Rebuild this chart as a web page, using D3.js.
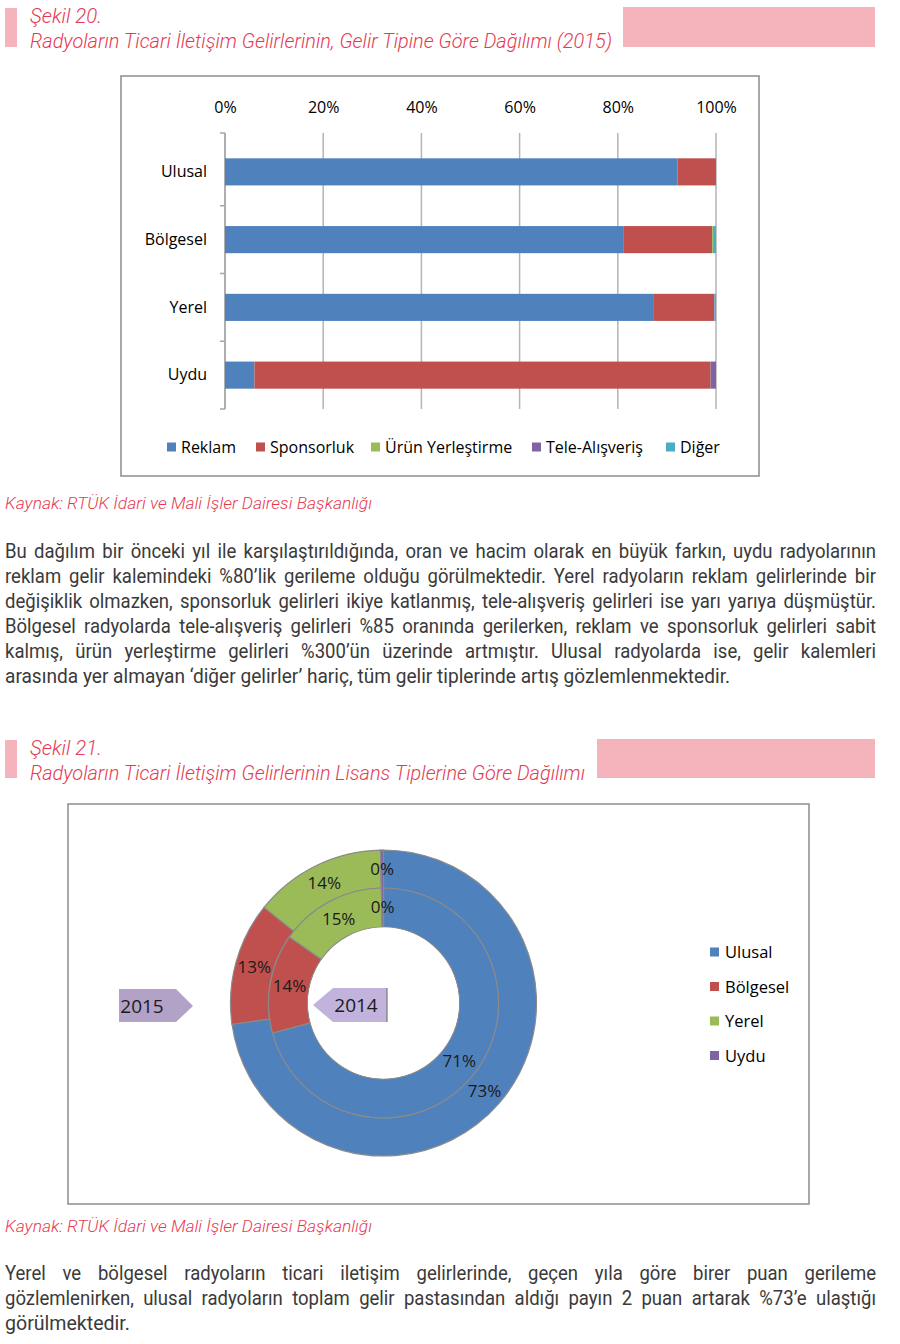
<!DOCTYPE html>
<html><head><meta charset="utf-8">
<script src="https://cdn.jsdelivr.net/npm/d3@7"></script>
<style>html,body{margin:0;padding:0;background:#fff;}svg{display:block;}</style>
</head><body>
<script>
// ---------- DATA ----------
const barCategories = ["Ulusal", "Bölgesel", "Yerel", "Uydu"];
const revenueTypes = ["Reklam", "Sponsorluk", "Ürün Yerleştirme", "Tele-Alışveriş", "Diğer"];
const reklam      = [92.2, 81.1, 87.2, 6.0];
const sponsorluk  = [7.6, 18.1, 12.4, 92.9];
const urunYer     = [0.0, 0.2, 0.0, 0.0];
const teleAlis    = [0.2, 0.0, 0.1, 1.1];
const diger       = [0.0, 0.6, 0.3, 0.0];
const xTicks = [0, 20, 40, 60, 80, 100];

const licenseTypes = ["Ulusal", "Bölgesel", "Yerel", "Uydu"];
const share2015 = [73, 13, 14, 0.3];
const share2014 = [71, 14, 15, 0.3];
const shareLabels2015 = ["73%", "13%", "14%", "0%"];
const shareLabels2014 = ["71%", "14%", "15%", "0%"];

const title1a = "Şekil 20.";
const title1b = "Radyoların Ticari İletişim Gelirlerinin, Gelir Tipine Göre Dağılımı (2015)";
const title2a = "Şekil 21.";
const title2b = "Radyoların Ticari İletişim Gelirlerinin Lisans Tiplerine Göre Dağılımı";
const sourceText = "Kaynak: RTÜK İdari ve Mali İşler Dairesi Başkanlığı";
const para1 = [
 "Bu dağılım bir önceki yıl ile karşılaştırıldığında, oran ve hacim olarak en büyük farkın, uydu radyolarının",
 "reklam gelir kalemindeki %80’lik gerileme olduğu görülmektedir. Yerel radyoların reklam gelirlerinde bir",
 "değişiklik olmazken, sponsorluk gelirleri ikiye katlanmış, tele-alışveriş gelirleri ise yarı yarıya düşmüştür.",
 "Bölgesel radyolarda tele-alışveriş gelirleri %85 oranında gerilerken, reklam ve sponsorluk gelirleri sabit",
 "kalmış, ürün yerleştirme gelirleri %300’ün üzerinde artmıştır. Ulusal radyolarda ise, gelir kalemleri",
 "arasında yer almayan ‘diğer gelirler’ hariç, tüm gelir tiplerinde artış gözlemlenmektedir."
];
const para2 = [
 "Yerel ve bölgesel radyoların ticari iletişim gelirlerinde, geçen yıla göre birer puan gerileme",
 "gözlemlenirken, ulusal radyoların toplam gelir pastasından aldığı payın 2 puan artarak %73’e ulaştığı",
 "görülmektedir."
];

// ---------- STYLE ----------
const colors = ["#4F81BD", "#C0504D", "#9BBB59", "#8064A2", "#4BACC6"];
const pink = "#F5B4BB";
const red = "#E63A52";
const bodyColor = "#3a3a3a";
const chartFont = "'Open Sans', sans-serif";
const textFont = "Roboto, sans-serif";

const svg = d3.select("body").append("svg").attr("width", 900).attr("height", 1344);

// ---------- HEADERS ----------
function header(y0, y1, boxX, lineA, lineB, widthB) {
  svg.append("rect").attr("x", 5).attr("y", y0).attr("width", 12).attr("height", y1 - y0).attr("fill", pink);
  svg.append("rect").attr("x", boxX).attr("y", y0 - 1).attr("width", 875 - boxX).attr("height", y1 - y0 + 1).attr("fill", pink);
  svg.append("text").attr("x", 30).attr("y", y0 + 15).text(lineA)
    .attr("font-family", textFont).attr("font-weight", 300).attr("font-style", "italic")
    .attr("font-size", 21).attr("fill", red)
    .attr("textLength", 72).attr("lengthAdjust", "spacingAndGlyphs");
  svg.append("text").attr("x", 30).attr("y", y0 + 40).text(lineB)
    .attr("font-family", textFont).attr("font-weight", 300).attr("font-style", "italic")
    .attr("font-size", 21).attr("fill", red)
    .attr("textLength", widthB).attr("lengthAdjust", "spacingAndGlyphs");
}
header(8, 47, 623, title1a, title1b, 582);
header(740, 778, 597, title2a, title2b, 555);

function source(y) {
  svg.append("text").attr("x", 5).attr("y", y).text(sourceText)
    .attr("font-family", textFont).attr("font-weight", 300).attr("font-style", "italic")
    .attr("font-size", 17).attr("fill", red)
    .attr("textLength", 367).attr("lengthAdjust", "spacingAndGlyphs");
}
source(509);
source(1232);

// ---------- PARAGRAPHS (justified) ----------
function paragraph(lines, y0, lastWidth) {
  const left = 5, right = 876;
  const fs = 19.5;
  lines.forEach((line, i) => {
    const y = y0 + i * 25;
    const isLast = i === lines.length - 1;
    if (isLast) {
      const t = svg.append("text").attr("x", left).attr("y", y).text(line)
        .attr("font-family", textFont).attr("font-weight", 400).attr("font-size", fs).attr("fill", bodyColor);
      if (lastWidth) t.attr("textLength", lastWidth).attr("lengthAdjust", "spacingAndGlyphs");
      return;
    }
    const words = line.split(" ");
    const g = svg.append("g");
    const nodes = words.map(w => g.append("text").attr("y", y).text(w)
      .attr("font-family", textFont).attr("font-weight", 400).attr("font-size", fs).attr("fill", bodyColor));
    const widths = nodes.map(n => n.node().getComputedTextLength());
    const total = d3.sum(widths);
    let scaleX = 0.95;
    const minGap = 5.5;
    if (total * scaleX + minGap * (words.length - 1) > right - left) {
      scaleX = (right - left - minGap * (words.length - 1)) / total;
    }
    const gap = (right - left - total * scaleX) / (words.length - 1);
    let x = left;
    nodes.forEach((n, k) => {
      const w = widths[k] * scaleX;
      n.attr("x", x).attr("textLength", w).attr("lengthAdjust", "spacingAndGlyphs");
      x += w + gap;
    });
  });
}
paragraph(para1, 558, 725);
paragraph(para2, 1280, 125);

// ---------- BAR CHART ----------
svg.append("rect").attr("x", 121).attr("y", 76).attr("width", 638).attr("height", 400)
  .attr("fill", "#fff").attr("stroke", "#8C8C8C").attr("stroke-width", 1.5);

const x = d3.scaleLinear().domain([0, 100]).range([225, 716]);
const y = d3.scaleBand().domain(barCategories).range([138, 409]).padding(0);
const barH = y.bandwidth() * 0.4;

svg.append("g").selectAll("line").data(xTicks).join("line")
  .attr("x1", d => x(d)).attr("x2", d => x(d)).attr("y1", 133).attr("y2", 409)
  .attr("stroke", "#B5B5B5").attr("stroke-width", 1.5);

const xAxis = d3.axisTop(x).tickValues(xTicks).tickFormat(d => d + "%").tickSize(0).tickPadding(0);
const gx = svg.append("g").attr("transform", "translate(0,113)").call(xAxis);
gx.select(".domain").remove();
gx.selectAll("text").attr("font-family", chartFont).attr("font-size", 16).attr("fill", "#000").attr("dy", 0);

const yAxis = d3.axisLeft(y).tickSize(0).tickPadding(18);
const gy = svg.append("g").attr("transform", "translate(225,0)").call(yAxis);
gy.select(".domain").remove();
gy.selectAll("text").attr("font-family", chartFont).attr("font-size", 16).attr("fill", "#000");
svg.append("line").attr("x1", 225).attr("x2", 225).attr("y1", 133).attr("y2", 409)
  .attr("stroke", "#A6A6A6").attr("stroke-width", 1.5);
const boundaries = [133].concat(barCategories.slice(1).map(c => y(c))).concat([409]);
svg.append("g").selectAll("line").data(boundaries).join("line")
  .attr("x1", 220).attr("x2", 225).attr("y1", d => d).attr("y2", d => d)
  .attr("stroke", "#A6A6A6").attr("stroke-width", 1.5);

const seriesArrays = [reklam, sponsorluk, urunYer, teleAlis, diger];
const rows = barCategories.map((c, i) => {
  const r = { cat: c };
  revenueTypes.forEach((t, k) => r[t] = seriesArrays[k][i]);
  return r;
});
const stack = d3.stack().keys(revenueTypes)(rows);
svg.append("g").selectAll("g").data(stack).join("g")
  .attr("fill", (d, i) => colors[i])
  .selectAll("rect").data(d => d).join("rect")
  .attr("x", d => x(d[0]))
  .attr("width", d => Math.max(0, x(d[1]) - x(d[0])))
  .attr("y", d => y(d.data.cat) + (y.bandwidth() - barH) / 2)
  .attr("height", barH);

const legendX = [167, 256, 371, 532, 666];
const lg = svg.append("g").selectAll("g").data(revenueTypes).join("g")
  .attr("transform", (d, i) => `translate(${legendX[i]},447)`);
lg.append("rect").attr("x", 0).attr("y", -4.5).attr("width", 9).attr("height", 9).attr("fill", (d, i) => colors[i]);
lg.append("text").attr("x", 14).attr("y", 5.5).text(d => d)
  .attr("font-family", chartFont).attr("font-size", 16).attr("fill", "#000");

// ---------- DONUT CHART ----------
svg.append("rect").attr("x", 68).attr("y", 804).attr("width", 741).attr("height", 400)
  .attr("fill", "#fff").attr("stroke", "#8C8C8C").attr("stroke-width", 1.5);

const cx = 383.5, cy = 1003;
const pie = d3.pie().sort(null).value(d => d);
const arcOuter = d3.arc().innerRadius(115).outerRadius(153);
const arcInner = d3.arc().innerRadius(76).outerRadius(115);
const dg = svg.append("g").attr("transform", `translate(${cx},${cy})`);

const p15 = pie(share2015), p14 = pie(share2014);
dg.append("g").selectAll("path").data(p15).join("path")
  .attr("d", arcOuter).attr("fill", (d, i) => colors[i])
  .attr("stroke", "#8A8A8A").attr("stroke-width", 1.2);
dg.append("g").selectAll("path").data(p14).join("path")
  .attr("d", arcInner).attr("fill", (d, i) => colors[i])
  .attr("stroke", "#8A8A8A").attr("stroke-width", 1.2);
dg.append("circle").attr("r", 75.4).attr("fill", "#fff");

function pieLabels(data, arc, labels) {
  dg.append("g").selectAll("text").data(data).join("text")
    .attr("transform", d => {
      const c = arc.centroid(d);
      return `translate(${c[0]},${c[1]})`;
    })
    .attr("text-anchor", "middle").attr("dy", "0.35em")
    .attr("font-family", chartFont).attr("font-size", 17).attr("fill", "#1a1a1a")
    .text((d, i) => labels[i]);
}
pieLabels(p15, arcOuter, shareLabels2015);
pieLabels(p14, arcInner, shareLabels2014);

svg.append("path")
  .attr("d", "M119,989 L176,989 L193,1006 L176,1022 L119,1022 Z")
  .attr("fill", "#B3A2C7");
svg.append("text").attr("x", 142).attr("y", 1013).attr("text-anchor", "middle").text("2015")
  .attr("font-family", chartFont).attr("font-size", 19).attr("fill", "#1a1a1a");
svg.append("path")
  .attr("d", "M313,1005 L333,988 L387,988 L387,1022 L333,1022 Z")
  .attr("fill", "#C1B3DB");
svg.append("line").attr("x1", 387).attr("x2", 387).attr("y1", 988).attr("y2", 1022)
  .attr("stroke", "#7a7a7a").attr("stroke-width", 1.2);
svg.append("text").attr("x", 356).attr("y", 1012).attr("text-anchor", "middle").text("2014")
  .attr("font-family", chartFont).attr("font-size", 19).attr("fill", "#1a1a1a");

const lg2 = svg.append("g").selectAll("g").data(licenseTypes).join("g")
  .attr("transform", (d, i) => `translate(710,${952 + i * 34.5})`);
lg2.append("rect").attr("x", 0).attr("y", -4.5).attr("width", 9).attr("height", 9).attr("fill", (d, i) => colors[i]);
lg2.append("text").attr("x", 15).attr("y", 6).text(d => d)
  .attr("font-family", chartFont).attr("font-size", 16.5).attr("fill", "#000");
</script>
</body></html>
